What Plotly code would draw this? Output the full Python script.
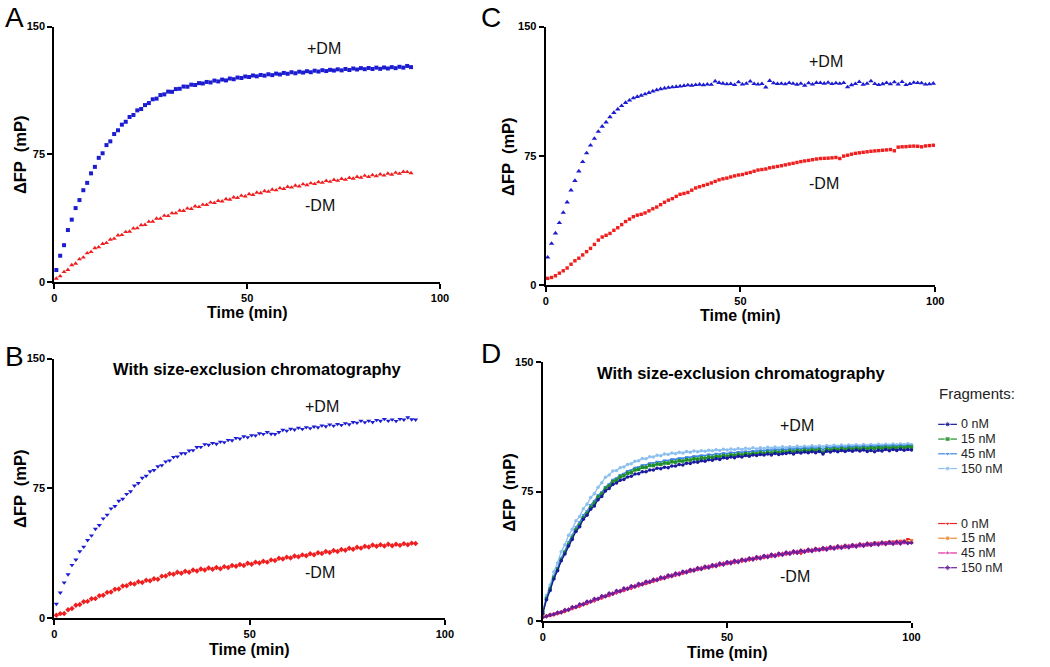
import plotly.graph_objects as go

# ---------------- data ----------------
# Panel A (sampling every 1 min starting at 0.5 min)
A_T0 = 0.5
A_PLUS = [7.0, 15.4, 21.6, 30.5, 36.6, 43.4, 48.1, 53.9, 58.2, 63.8, 67.6, 72.9, 75.6, 80.4, 82.6, 86.9, 89.1, 92.4, 94.1, 96.9, 98.1, 100.8, 101.6, 103.9, 105.1, 107.3, 107.7, 109.8, 110.2, 111.8, 111.7, 113.3, 113.5, 114.8, 114.7, 115.9, 115.7, 116.8, 116.6, 117.5, 117.2, 118.3, 117.8, 118.9, 118.4, 119.5, 119.1, 120.1, 119.8, 120.7, 120.4, 121.3, 120.8, 121.6, 121.2, 122.0, 121.5, 122.4, 121.9, 122.8, 122.3, 123.2, 122.6, 123.5, 123.0, 123.8, 123.2, 124.1, 123.6, 124.4, 123.9, 124.6, 124.2, 124.9, 124.3, 125.1, 124.5, 125.4, 124.8, 125.6, 125.0, 125.7, 125.1, 125.9, 125.2, 126.0, 125.4, 126.2, 125.6, 126.4, 125.9, 126.9, 126.2]
A_MINUS = [2.0, 3.4, 5.9, 7.1, 9.9, 10.8, 13.4, 14.4, 16.9, 17.6, 19.9, 20.4, 22.4, 22.9, 24.9, 25.4, 27.4, 27.6, 29.4, 29.6, 31.4, 31.6, 33.4, 33.6, 35.4, 35.5, 37.2, 37.2, 38.9, 38.8, 40.4, 40.4, 41.9, 41.8, 43.2, 43.0, 44.4, 44.1, 45.4, 45.3, 46.7, 46.4, 47.7, 47.4, 48.7, 48.4, 49.7, 49.4, 50.7, 50.3, 51.6, 51.2, 52.5, 52.2, 53.4, 53.1, 54.3, 53.9, 55.1, 54.7, 55.9, 55.5, 56.6, 56.2, 57.4, 56.9, 58.0, 57.6, 58.7, 58.3, 59.4, 58.9, 60.0, 59.5, 60.6, 60.1, 61.2, 60.7, 61.8, 61.3, 62.4, 61.8, 62.8, 62.2, 63.2, 62.6, 63.7, 63.1, 64.2, 63.6, 64.7, 64.6, 64.0]

# Panel B
B_T0 = 0.5
B_PLUS = [8.0, 14.5, 20.4, 25.1, 30.5, 33.6, 38.4, 41.1, 44.9, 47.6, 51.4, 53.6, 57.4, 59.6, 63.2, 64.6, 67.6, 68.8, 71.6, 73.1, 76.4, 77.9, 80.9, 82.1, 84.7, 85.4, 87.6, 88.2, 90.4, 91.0, 93.0, 93.3, 95.1, 95.1, 96.7, 96.9, 98.7, 98.8, 100.4, 100.0, 101.1, 100.6, 101.8, 101.5, 102.8, 102.6, 104.0, 103.6, 104.9, 104.4, 105.6, 105.4, 106.7, 106.3, 107.4, 106.4, 106.2, 107.4, 108.7, 108.2, 109.3, 108.8, 109.9, 109.2, 110.2, 109.6, 110.6, 110.1, 111.2, 110.7, 111.8, 111.1, 112.1, 111.5, 112.5, 111.9, 113.2, 112.8, 114.0, 113.1, 114.0, 113.2, 114.4, 113.9, 115.0, 114.0, 114.7, 113.8, 115.0, 114.6, 115.9, 114.8, 114.6]
B_MINUS = [1.5, 2.4, 2.5, 4.7, 5.4, 7.3, 7.7, 9.3, 9.5, 11.0, 11.1, 12.8, 13.0, 14.7, 14.9, 16.5, 16.7, 18.4, 18.5, 19.8, 19.5, 20.8, 20.4, 21.7, 21.4, 22.6, 22.3, 24.1, 24.2, 25.5, 25.2, 26.3, 25.8, 26.9, 26.4, 27.6, 27.1, 28.2, 27.7, 28.8, 28.1, 29.1, 28.4, 29.6, 29.1, 30.3, 29.8, 30.8, 30.3, 31.5, 31.0, 32.2, 31.7, 32.7, 32.2, 33.5, 33.2, 34.5, 34.0, 35.1, 34.6, 35.7, 35.3, 36.4, 35.9, 37.0, 36.5, 37.6, 37.2, 38.3, 37.8, 38.9, 38.4, 39.5, 39.1, 40.2, 39.7, 40.8, 40.3, 41.4, 41.0, 42.1, 41.4, 42.3, 41.5, 42.5, 41.7, 42.6, 41.9, 42.9, 42.2, 43.2, 43.0]

# Panel C
C_T0 = 0.5
C_PLUS = [16, 24, 30, 36, 42, 48, 55, 60.5, 66, 71.5, 76.5, 81, 85, 89, 92, 94.5, 97.5, 100, 102, 104, 105.8, 107.2, 108.5, 109.3, 110, 110.8, 111.6, 112.5, 113.2, 113.8, 114.2, 114.6, 114.9, 115.1, 115.4, 115.7, 116, 115.8, 116.2, 116.4, 116.1, 116.5, 116.3, 118.3, 117.4, 117, 116.6, 116.8, 116.2, 117.8, 116.5, 116.9, 118.2, 116.8, 116.5, 116.8, 114.8, 118.6, 117.2, 116.8, 116.9, 116.6, 117.3, 116.9, 116.4, 116.9, 115.8, 117.2, 116.5, 117.4, 117.3, 117, 117.5, 116.8, 117.2, 116.9, 117.3, 114.9, 116.1, 116.8, 117.9, 116.4, 116.9, 118.4, 116.8, 116.2, 116.7, 117.3, 116.6, 117.8, 116.5, 117.9, 116.2, 116.8, 117.5, 117.3, 117.2, 116.5, 116.6, 117]
C_MINUS = [3.8, 4.3, 5.3, 6.8, 8.2, 9.8, 12, 14, 15.5, 17.4, 19.3, 21.2, 23.5, 26, 27.8, 28.8, 29.9, 31.7, 33.2, 35, 36.8, 38.2, 39.6, 40.5, 41, 41.8, 43, 44.2, 45.2, 46.6, 48, 49.2, 50.1, 51.4, 52.6, 53.1, 53.7, 55, 56.3, 57, 57.7, 58.4, 59.2, 60.1, 61, 61.6, 62, 62.7, 63.3, 63.8, 64.1, 64.8, 65.3, 66, 66.7, 67, 67.3, 68, 68.4, 68.8, 69.2, 69.7, 70.2, 70.6, 71.1, 71.6, 72, 72.3, 72.7, 73.1, 73.4, 73.5, 73.6, 73.8, 74, 73.4, 74.8, 75.3, 75.9, 76.4, 76.7, 77, 77.3, 77.6, 77.8, 78, 78.2, 78.4, 78.6, 77.9, 80, 80.2, 80.3, 80.5, 80.6, 80.5, 80.2, 80.7, 80.9, 81.1]

# Panel D (fragment concentrations)
D_T0 = 0.0
D_PLUS = {
    "0 nM": [4.0, 12.2, 17.6, 24.3, 29.1, 34.8, 38.7, 43.4, 47.2, 51.8, 54.6, 58.9, 61.2, 64.8, 66.7, 70.3, 72.2, 75.4, 76.8, 79.1, 80.0, 81.6, 82.1, 83.5, 83.9, 85.2, 85.4, 86.6, 86.5, 87.6, 87.5, 88.6, 88.3, 89.2, 88.9, 89.9, 89.8, 90.7, 90.5, 91.5, 91.3, 92.2, 92.0, 92.9, 92.6, 93.5, 93.2, 94.1, 93.7, 94.6, 94.4, 95.1, 94.7, 95.5, 95.1, 95.9, 95.5, 96.3, 95.9, 96.6, 96.2, 96.9, 96.3, 97.2, 96.6, 97.0, 97.1, 97.6, 96.8, 97.8, 97.4, 98.0, 97.5, 98.2, 97.6, 98.3, 96.9, 98.5, 98.0, 98.7, 98.1, 98.9, 98.3, 99.0, 98.4, 99.1, 98.6, 99.2, 98.3, 98.9, 98.1, 99.0, 98.6, 99.4, 98.8, 99.5, 98.9, 99.6, 99.0, 99.4, 99.2],
    "15 nM": [4.5, 12.8, 18.3, 24.9, 29.8, 35.3, 39.6, 44.2, 48.1, 52.7, 55.6, 59.8, 62.3, 65.9, 68.2, 71.8, 73.6, 76.9, 78.3, 80.8, 81.7, 83.5, 84.2, 85.7, 86.1, 87.6, 87.9, 89.1, 89.0, 90.2, 90.1, 91.0, 90.8, 91.6, 91.5, 92.3, 92.1, 92.9, 92.7, 93.5, 93.3, 94.1, 93.8, 94.6, 94.3, 95.1, 94.8, 95.5, 95.2, 95.9, 95.6, 96.3, 96.0, 96.7, 96.3, 97.0, 96.6, 97.3, 96.9, 97.6, 97.1, 97.9, 97.4, 98.1, 97.6, 98.4, 97.9, 98.6, 98.1, 98.8, 98.4, 99.0, 98.6, 99.2, 98.8, 99.4, 97.8, 99.6, 99.1, 99.7, 99.3, 99.9, 99.4, 100.0, 99.6, 100.2, 99.7, 100.3, 99.8, 100.4, 100.0, 100.5, 100.1, 100.6, 100.2, 100.7, 100.3, 100.8, 100.4, 100.9, 100.8],
    "45 nM": [5.0, 13.4, 19.2, 25.8, 30.7, 36.4, 40.6, 45.7, 49.6, 54.3, 57.2, 61.4, 63.7, 67.3, 69.6, 72.9, 74.7, 77.8, 79.3, 81.9, 82.8, 84.7, 85.4, 87.0, 87.5, 88.9, 89.2, 90.4, 90.5, 91.5, 91.6, 92.4, 92.3, 93.1, 93.0, 93.8, 93.7, 94.4, 94.3, 95.0, 94.9, 95.6, 95.4, 96.1, 95.9, 96.6, 96.3, 97.0, 96.8, 97.4, 97.1, 97.8, 97.5, 98.1, 97.8, 98.4, 98.1, 98.7, 98.4, 99.0, 98.6, 99.2, 98.9, 99.5, 99.1, 99.7, 99.3, 99.9, 99.5, 100.1, 99.7, 100.3, 99.9, 100.5, 100.0, 100.6, 99.4, 100.8, 100.3, 100.9, 100.5, 101.1, 100.6, 101.2, 100.8, 101.3, 100.9, 101.4, 101.0, 101.5, 101.1, 101.6, 101.2, 101.7, 101.3, 101.8, 101.4, 101.9, 101.5, 101.9, 101.7],
    "150 nM": [5.5, 14.6, 20.8, 28.4, 33.6, 40.1, 44.2, 49.6, 53.1, 58.0, 60.6, 65.1, 67.6, 71.6, 73.8, 77.6, 80.1, 83.4, 84.6, 86.9, 87.3, 88.9, 89.3, 90.8, 91.2, 92.7, 92.9, 94.2, 94.1, 95.3, 95.1, 96.1, 95.8, 96.9, 96.6, 97.4, 97.0, 97.8, 97.4, 98.3, 97.8, 98.6, 98.1, 98.8, 98.4, 99.0, 98.7, 99.3, 98.9, 99.6, 99.1, 99.8, 99.3, 100.0, 99.5, 100.2, 99.7, 100.4, 99.8, 100.5, 100.0, 100.7, 100.2, 100.9, 100.3, 101.0, 100.5, 101.1, 100.6, 101.3, 100.8, 101.4, 100.9, 101.6, 101.0, 101.7, 101.1, 101.8, 101.3, 101.9, 101.4, 102.0, 101.5, 102.1, 101.6, 102.2, 101.7, 102.3, 101.8, 102.4, 101.9, 102.5, 102.0, 102.5, 102.1, 102.6, 102.2, 102.7, 102.3, 102.8, 102.4],
}
D_MINUS = {
    "0 nM": [1.6, 2.4, 2.7, 3.5, 3.9, 4.6, 5.1, 6.2, 6.8, 7.9, 8.1, 9.4, 9.7, 11.0, 11.3, 12.6, 12.9, 14.1, 14.4, 15.6, 15.9, 17.1, 17.3, 18.5, 18.6, 19.8, 20.0, 21.2, 21.3, 22.4, 22.6, 23.7, 23.9, 24.9, 25.1, 26.1, 26.2, 27.3, 27.3, 28.4, 28.4, 29.4, 29.4, 30.4, 30.3, 31.3, 31.2, 32.2, 32.1, 33.1, 32.9, 33.9, 33.6, 34.6, 34.3, 35.3, 35.0, 36.0, 35.7, 36.8, 36.4, 37.4, 37.1, 38.1, 37.8, 38.8, 38.4, 39.4, 39.1, 40.1, 38.9, 40.6, 40.2, 41.1, 40.7, 41.6, 41.1, 42.1, 41.6, 42.6, 42.1, 43.1, 42.5, 43.6, 42.9, 44.0, 43.4, 44.4, 43.8, 44.9, 44.3, 45.3, 44.6, 45.7, 45.0, 46.1, 45.4, 46.5, 45.8, 47.5, 46.9],
    "15 nM": [2.4, 2.9, 3.6, 3.9, 4.7, 5.1, 6.1, 6.5, 7.7, 8.0, 9.3, 9.6, 10.9, 11.2, 12.5, 12.8, 14.1, 14.3, 15.6, 15.8, 17.1, 17.2, 18.5, 18.6, 19.9, 19.9, 21.3, 21.2, 22.6, 22.5, 23.9, 23.8, 25.1, 25.0, 26.3, 26.1, 27.4, 27.2, 28.5, 28.3, 29.6, 29.3, 30.6, 30.3, 31.5, 31.3, 32.4, 32.1, 33.3, 33.0, 34.1, 33.8, 34.9, 34.5, 35.6, 35.2, 36.3, 35.9, 37.0, 36.6, 37.7, 37.3, 38.4, 38.0, 39.0, 38.7, 39.7, 39.3, 40.3, 39.9, 40.9, 40.4, 41.4, 40.9, 41.9, 41.4, 42.4, 41.9, 42.9, 42.3, 43.4, 42.7, 43.8, 43.1, 44.2, 43.5, 44.6, 43.9, 45.0, 44.3, 45.3, 44.6, 45.6, 44.9, 45.9, 45.2, 46.1, 45.5, 46.3, 45.7, 46.4],
    "45 nM": [1.8, 3.0, 3.1, 4.2, 4.2, 5.4, 5.6, 6.9, 7.1, 8.5, 8.6, 10.1, 10.1, 11.7, 11.6, 13.2, 13.1, 14.8, 14.6, 16.3, 16.1, 17.8, 17.5, 19.2, 18.9, 20.6, 20.3, 21.9, 21.6, 23.2, 22.9, 24.5, 24.1, 25.7, 25.3, 26.9, 26.4, 28.0, 27.5, 29.1, 28.6, 30.1, 29.6, 31.1, 30.5, 32.0, 31.4, 32.9, 32.3, 33.7, 33.1, 34.5, 33.8, 35.2, 34.6, 35.9, 35.3, 36.6, 35.9, 37.3, 36.6, 38.0, 37.3, 38.6, 38.0, 39.3, 38.6, 39.9, 39.2, 40.5, 39.7, 41.0, 40.2, 41.5, 40.7, 42.0, 41.2, 42.5, 41.6, 43.0, 42.0, 43.4, 42.4, 43.8, 42.8, 44.2, 43.2, 44.6, 43.6, 45.0, 44.0, 45.3, 44.3, 45.6, 44.5, 45.8, 44.7, 45.9, 44.9, 45.4, 45.1],
    "150 nM": [2.2, 2.5, 3.5, 3.6, 4.8, 4.8, 6.3, 6.3, 8.0, 7.9, 9.6, 9.5, 11.2, 11.0, 12.8, 12.6, 14.4, 14.1, 15.9, 15.6, 17.4, 17.0, 18.8, 18.4, 20.2, 19.7, 21.5, 21.0, 22.8, 22.3, 24.0, 23.5, 25.2, 24.7, 26.4, 25.8, 27.5, 26.9, 28.6, 28.0, 29.6, 29.0, 30.6, 29.9, 31.5, 30.8, 32.4, 31.7, 33.3, 32.5, 34.1, 33.3, 34.9, 34.0, 35.6, 34.8, 36.3, 35.5, 37.0, 36.2, 37.7, 36.9, 38.4, 37.5, 39.0, 38.2, 39.7, 38.8, 40.3, 39.4, 40.8, 39.9, 41.3, 40.4, 41.8, 40.9, 42.3, 41.3, 42.8, 41.8, 43.2, 42.2, 43.6, 42.6, 44.0, 43.0, 44.4, 43.4, 44.8, 43.8, 45.1, 44.1, 45.4, 44.4, 45.7, 44.6, 45.9, 44.8, 46.0, 45.0, 45.3],
}
STEP = 1.0

X_TICKS = [0, 50, 100]
Y_TICKS = [0, 75, 150]
LEGEND_TITLE = "Fragments:"

# ---------------- styles ----------------
W, H = 1050, 667
FONT = "Liberation Sans, Arial, sans-serif"
BLUE = "#1c1cd0"
RED = "#f01e1e"
PLUS_COLORS = {"0 nM": "#1a1a9e", "15 nM": "#1f8f2a", "45 nM": "#3d86e0", "150 nM": "#8cc0f0"}
PLUS_SYMBOLS = {"0 nM": "circle", "15 nM": "square", "45 nM": "triangle-down", "150 nM": "circle"}
MINUS_COLORS = {"0 nM": "#f02020", "15 nM": "#f08a30", "45 nM": "#e0289e", "150 nM": "#6a1f9a"}
MINUS_SYMBOLS = {"0 nM": "triangle-down", "15 nM": "circle", "45 nM": "triangle-up", "150 nM": "diamond"}


def times(vals, t0):
    return [t0 + i * STEP for i in range(len(vals))]


def px_x(p):
    return p / W


def px_y(p):
    return 1 - p / H


# panel domains in pixels (left, right, top, bottom)
PANELS = {
    "A": (52, 442, 21, 281),
    "C": (549, 943, 21, 284),
    "B": (52, 447, 359, 623),
    "D": (546, 919, 363, 626),
}
AX = {"A": ("x", "y"), "C": ("x2", "y2"), "B": ("x3", "y3"), "D": ("x4", "y4")}

fig = go.Figure()


def pts(name, t, v, ax, color, symbol, size):
    xa, ya = AX[ax]
    fig.add_trace(go.Scatter(x=t, y=v, mode="markers", xaxis=xa, yaxis=ya,
                             marker=dict(color=color, symbol=symbol, size=size, line=dict(width=0)),
                             cliponaxis=False, showlegend=False, name=name))


pts("+DM", times(A_PLUS, A_T0), A_PLUS, "A", BLUE, "square", 4)
pts("-DM", times(A_MINUS, A_T0), A_MINUS, "A", RED, "triangle-up", 4.5)
pts("+DM", times(B_PLUS, B_T0), B_PLUS, "B", BLUE, "triangle-down", 4.5)
pts("-DM", times(B_MINUS, B_T0), B_MINUS, "B", RED, "diamond", 4.2)
pts("+DM", times(C_PLUS, C_T0), C_PLUS, "C", BLUE, "triangle-up", 4.8)
pts("-DM", times(C_MINUS, C_T0), C_MINUS, "C", RED, "square", 3.4)

for k in ["150 nM", "45 nM", "15 nM", "0 nM"]:
    v = D_PLUS[k]
    fig.add_trace(go.Scatter(x=times(v, D_T0), y=v, mode="lines+markers", xaxis="x4", yaxis="y4",
                             line=dict(color=PLUS_COLORS[k], width=1.3),
                             marker=dict(color=PLUS_COLORS[k], symbol=PLUS_SYMBOLS[k], size=3.5),
                             cliponaxis=False, showlegend=False, name="+DM " + k))
for k in ["0 nM", "15 nM", "45 nM", "150 nM"]:
    v = D_MINUS[k]
    fig.add_trace(go.Scatter(x=times(v, D_T0), y=v, mode="lines+markers", xaxis="x4", yaxis="y4",
                             line=dict(color=MINUS_COLORS[k], width=1.3),
                             marker=dict(color=MINUS_COLORS[k], symbol=MINUS_SYMBOLS[k], size=3.5),
                             cliponaxis=False, showlegend=False, name="-DM " + k))

# ---- manual legend on an overlay axis measured in pixels ----
LEG_X = (946, 955.5, 965)
LEG_ROWS_PLUS = [426, 441, 456, 471]
LEG_ROWS_MINUS = [527, 542, 557, 572]
annotations = []
for rows, colors, symbols in [(LEG_ROWS_PLUS, PLUS_COLORS, PLUS_SYMBOLS), (LEG_ROWS_MINUS, MINUS_COLORS, MINUS_SYMBOLS)]:
    for r, k in zip(rows, colors):
        fig.add_trace(go.Scatter(x=list(LEG_X), y=[r, r, r], mode="lines+markers", xaxis="x5", yaxis="y5",
                                 line=dict(color=colors[k], width=1.2),
                                 marker=dict(color=colors[k], symbol=symbols[k], size=[0, 5, 0]),
                                 showlegend=False, hoverinfo="skip", cliponaxis=False))
        annotations.append(dict(x=967, y=r, xref="x5", yref="y5", text=k, showarrow=False,
                                xanchor="left", yanchor="middle", font=dict(family=FONT, size=12.5, color="#222")))
annotations.append(dict(x=945, y=395, xref="x5", yref="y5", text=LEGEND_TITLE, showarrow=False,
                        xanchor="left", yanchor="middle", font=dict(family=FONT, size=15, color="#222")))

axis_common = dict(showline=True, linewidth=2.2, linecolor="black", ticks="outside", ticklen=5,
                   tickwidth=2, tickcolor="black", showgrid=False, zeroline=False,
                   tickfont=dict(family=FONT, size=11, color="black", weight="bold"))
layout = dict(width=W, height=H, margin=dict(l=0, r=0, t=0, b=0), plot_bgcolor="rgba(0,0,0,0)",
              paper_bgcolor="white", showlegend=False)
for p, (xa, ya) in AX.items():
    l, r, t, b = PANELS[p]
    xn = "xaxis" + xa[1:]
    yn = "yaxis" + ya[1:]
    layout[xn] = dict(axis_common, domain=[px_x(l), px_x(r)], range=[0, 100], tickvals=X_TICKS,
                      anchor=ya)
    layout[yn] = dict(axis_common, domain=[px_y(b), px_y(t)], range=[0, 150], tickvals=Y_TICKS,
                      anchor=xa)
layout["xaxis5"] = dict(domain=[0, 1], range=[0, W], visible=False, anchor="y5", fixedrange=True)
layout["yaxis5"] = dict(domain=[0, 1], range=[H, 0], visible=False, anchor="x5", fixedrange=True)

# panel letters
for letter, x, y in [("A", 0, 12), ("C", 481, 12), ("B", 0, 357), ("D", 482, 354)]:
    annotations.append(dict(x=px_x(x), y=px_y(y), xref="paper", yref="paper", text=letter,
                            showarrow=False, xanchor="left", yanchor="middle",
                            font=dict(family=FONT, size=28, color="black")))

# axis titles
for p, yt_x, xt_y in [("A", 17, 312), ("C", 511, 315), ("B", 17, 655), ("D", 511, 658)]:
    l, r, t, b = PANELS[p]
    annotations.append(dict(x=px_x(yt_x), y=px_y((t + b) / 2 + 1), xref="paper", yref="paper",
                            text="ΔFP  (mP)", textangle=-90, showarrow=False,
                            xanchor="center", yanchor="middle",
                            font=dict(family=FONT, size=16.5, color="black", weight="bold")))
    annotations.append(dict(x=px_x((l + r) / 2), y=px_y(xt_y), xref="paper", yref="paper",
                            text="Time (min)", showarrow=False, xanchor="center", yanchor="middle",
                            font=dict(family=FONT, size=16, color="black", weight="bold")))

# subplot titles
for x, y in [(257, 370), (747, 374)]:
    annotations.append(dict(x=px_x(x), y=px_y(y), xref="paper", yref="paper",
                            text="With size-exclusion chromatography", showarrow=False,
                            xanchor="center", yanchor="middle",
                            font=dict(family=FONT, size=16.5, color="black", weight="bold")))

# +DM / -DM labels (data coordinates)
for p, (tp, vp), (tm, vm) in [("A", (70, 137), (69, 45)), ("C", (72, 129.5), (71.5, 59)),
                              ("B", (68.5, 122), (68, 26)), ("D", (69, 113.5), (68.5, 25.5))]:
    xa, ya = AX[p]
    annotations.append(dict(x=tp, y=vp, xref=xa, yref=ya, text="+DM", showarrow=False,
                            xanchor="center", yanchor="middle",
                            font=dict(family=FONT, size=16, color="#111")))
    annotations.append(dict(x=tm, y=vm, xref=xa, yref=ya, text="-DM", showarrow=False,
                            xanchor="center", yanchor="middle",
                            font=dict(family=FONT, size=16, color="#111")))

layout["annotations"] = annotations
fig.update_layout(**layout)
fig.write_html("out.html", config={"displayModeBar": False},
               post_script="document.body.style.margin='0';")
